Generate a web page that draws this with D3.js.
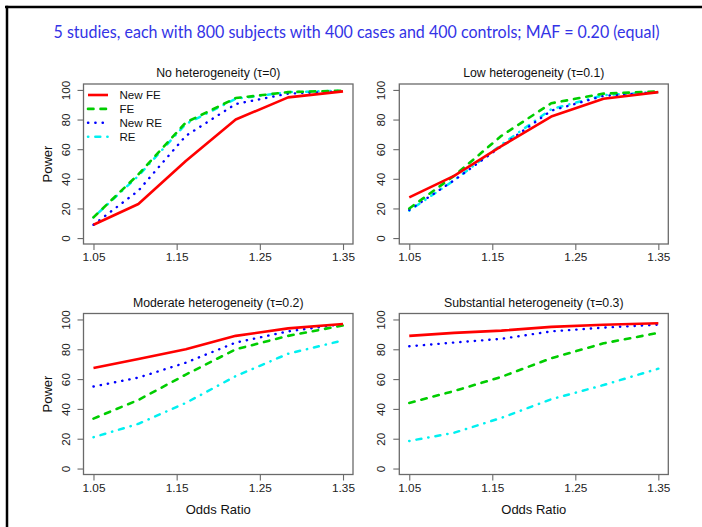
<!DOCTYPE html>
<html>
<head>
<meta charset="utf-8">
<script src="https://cdn.jsdelivr.net/npm/d3@7/dist/d3.min.js"></script>
<style>
html,body{margin:0;padding:0;background:#fff;}
svg{display:block;}
</style>
</head>
<body>
<svg id="chart" width="702" height="527"></svg>
<script>
// ---- data ----
const mainTitle = "5 studies, each with 800 subjects with 400 cases and 400 controls; MAF = 0.20 (equal)";
const panelTitles = ["No heterogeneity (\u03C4=0)", "Low heterogeneity (\u03C4=0.1)", "Moderate heterogeneity (\u03C4=0.2)", "Substantial heterogeneity (\u03C4=0.3)"];
const seriesNames = ["New FE", "FE", "New RE", "RE"];
const oddsRatios = [1.05, 1.104, 1.161, 1.221, 1.284, 1.35];
const xTicks = [1.05, 1.15, 1.25, 1.35];
const yTicks = [0, 20, 40, 60, 80, 100];

// No heterogeneity
const none_newFE = [9, 23, 52, 80, 95, 99];
const none_FE    = [14, 43, 78, 94.5, 98.5, 99.5];
const none_newRE = [9, 32, 69, 90.5, 97.5, 99];
const none_RE    = [14, 42, 77, 94, 98.5, 99.5];
// Low heterogeneity
const low_newFE = [27.5, 42, 62, 82, 94, 98.5];
const low_FE    = [20, 42, 69, 91, 97.5, 99];
const low_newRE = [19, 39, 62, 86, 96, 98.5];
const low_RE    = [18.5, 39, 63, 87, 96.5, 98.5];
// Moderate heterogeneity
const mod_newFE = [67.5, 73.5, 80, 89, 94, 97];
const mod_FE    = [33.5, 46, 63, 80, 89, 96];
const mod_newRE = [55, 61, 71, 84.5, 92, 97];
const mod_RE    = [21, 30, 44, 62, 77, 86];
// Substantial heterogeneity
const sub_newFE = [89, 91, 92.5, 95, 96.5, 97.5];
const sub_FE    = [44, 52, 61.5, 74, 84, 91];
const sub_newRE = [82, 84.5, 87, 92, 94.5, 96.5];
const sub_RE    = [18.5, 24, 34, 46.5, 56, 67];

const panelData = [
  [none_newFE, none_FE, none_newRE, none_RE],
  [low_newFE, low_FE, low_newRE, low_RE],
  [mod_newFE, mod_FE, mod_newRE, mod_RE],
  [sub_newFE, sub_FE, sub_newRE, sub_RE]
];

// ---- styles ----
const colors = ["#ff0000", "#00cd00", "#0000ff", "#00f0f0"];
const dashes = [null, "5.5,7", "0.3,7", "0.3,7,5,7"];
const widths = [2.6, 2.6, 2.4, 2.5];

// panel boxes (plot frame)
const boxes = [
  {x0: 83.5, x1: 353, y0: 84, y1: 244, ylab: true,  xlab: false},
  {x0: 399.3, x1: 668.3, y0: 84, y1: 244, ylab: false, xlab: false},
  {x0: 83.5, x1: 353, y0: 313.5, y1: 474.5, ylab: true, xlab: true},
  {x0: 399.3, x1: 668.3, y0: 313.5, y1: 474.5, ylab: false, xlab: true}
];

const svg = d3.select("#chart");
const font = "'Liberation Sans', Arial, Helvetica, sans-serif";

// outer frame (top and left thick lines)
svg.append("line").attr("x1", 5).attr("x2", 702).attr("y1", 7).attr("y2", 7)
  .attr("stroke", "#000").attr("stroke-width", 2.5);
svg.append("line").attr("x1", 7).attr("x2", 7).attr("y1", 5.8).attr("y2", 527)
  .attr("stroke", "#000").attr("stroke-width", 2.5);

// main title
svg.append("text")
  .attr("x", 356.5).attr("y", 38)
  .attr("text-anchor", "middle")
  .attr("font-family", "Lato, 'Open Sans', sans-serif")
  .attr("font-size", 16.5)
  .attr("fill", "#3333e6")
  .attr("textLength", 606).attr("lengthAdjust", "spacingAndGlyphs")
  .text(mainTitle);

boxes.forEach((b, pi) => {
  const padX = (b.x1 - b.x0) * 0.04 / 1.08;
  const padY = (b.y1 - b.y0) * 0.04 / 1.08;
  const x = d3.scaleLinear().domain([1.05, 1.35]).range([b.x0 + padX, b.x1 - padX]);
  const y = d3.scaleLinear().domain([0, 100]).range([b.y1 - padY, b.y0 + padY]);
  const g = svg.append("g");

  // lines
  const line = d3.line().x((d, i) => x(oddsRatios[i])).y(d => y(d));
  // draw order: RE, New RE, FE, New FE (New FE on top)
  [3, 2, 1, 0].forEach(si => {
    g.append("path")
      .datum(panelData[pi][si])
      .attr("d", line)
      .attr("fill", "none")
      .attr("stroke", colors[si])
      .attr("stroke-width", widths[si])
      .attr("stroke-linecap", si === 0 ? "butt" : "round")
      .attr("stroke-linejoin", "round")
      .attr("stroke-dasharray", dashes[si]);
  });

  // frame
  g.append("rect")
    .attr("x", b.x0).attr("y", b.y0)
    .attr("width", b.x1 - b.x0).attr("height", b.y1 - b.y0)
    .attr("fill", "none").attr("stroke", "#6a6a6a").attr("stroke-width", 1.3);

  // x axis
  const xAxis = d3.axisBottom(x).tickValues(xTicks).tickFormat(d3.format(".2f"))
    .tickSizeOuter(0).tickSizeInner(6).tickPadding(3);
  const xg = g.append("g").attr("transform", `translate(0,${b.y1})`).call(xAxis);
  xg.select(".domain").remove();
  xg.selectAll(".tick line").attr("stroke", "#6a6a6a").attr("stroke-width", 1.1);
  xg.selectAll(".tick text").attr("font-family", font).attr("font-size", 11.8).attr("fill", "#222");

  // y axis
  const yAxis = d3.axisLeft(y).tickValues(yTicks).tickSizeOuter(0).tickSizeInner(6).tickPadding(3);
  const yg = g.append("g").attr("transform", `translate(${b.x0},0)`).call(yAxis);
  yg.select(".domain").remove();
  yg.selectAll(".tick line").attr("stroke", "#6a6a6a").attr("stroke-width", 1.1);
  yg.selectAll(".tick text")
    .attr("font-family", font).attr("font-size", 11.8).attr("fill", "#222")
    .attr("x", null).attr("dy", null)
    .attr("text-anchor", "middle")
    .attr("transform", "translate(-14,0) rotate(-90)");

  // panel title
  g.append("text")
    .attr("x", (b.x0 + b.x1) / 2).attr("y", b.y0 - 7)
    .attr("text-anchor", "middle")
    .attr("font-family", font).attr("font-size", 12.3).attr("fill", "#111")
    .text(panelTitles[pi]);

  if (b.ylab) {
    g.append("text")
      .attr("transform", `translate(${b.x0 - 32},${(b.y0 + b.y1) / 2}) rotate(-90)`)
      .attr("text-anchor", "middle")
      .attr("font-family", font).attr("font-size", 13).attr("fill", "#111")
      .text("Power");
  }
  if (b.xlab) {
    g.append("text")
      .attr("x", (b.x0 + b.x1) / 2).attr("y", b.y1 + 39)
      .attr("text-anchor", "middle")
      .attr("font-family", font).attr("font-size", 13).attr("fill", "#111")
      .text("Odds Ratio");
  }

  // legend in first panel
  if (pi === 0) {
    const lg = g.append("g");
    seriesNames.forEach((name, si) => {
      const ly = 95 + si * 13.9;
      lg.append("line")
        .attr("x1", 88).attr("x2", 108).attr("y1", ly).attr("y2", ly)
        .attr("stroke", colors[si]).attr("stroke-width", widths[si])
        .attr("stroke-linecap", si === 0 ? "butt" : "round")
        .attr("stroke-dasharray", dashes[si]);
      lg.append("text")
        .attr("x", 119.5).attr("y", ly).attr("dy", "0.36em")
        .attr("font-family", font).attr("font-size", 11.6).attr("fill", "#111")
        .text(name);
    });
  }
});
</script>
</body>
</html>
